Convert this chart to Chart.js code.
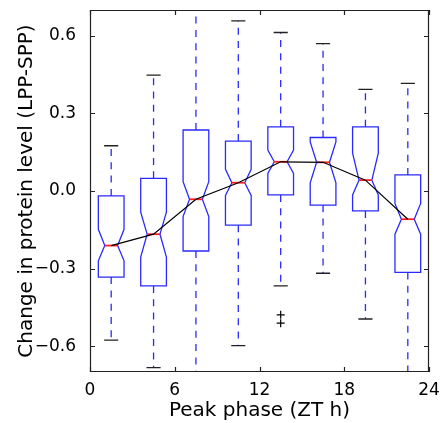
<!DOCTYPE html>
<html>
<head>
<meta charset="utf-8">
<script src="https://cdn.jsdelivr.net/npm/chart.js@4"></script>
<style>
html,body{margin:0;padding:0;background:#fff;}
#wrap{width:443px;height:423px;}
</style>
</head>
<body>
<div id="wrap"><canvas id="c" width="443" height="423"></canvas></div>
<script>
const phases = [1.5, 4.5, 7.5, 10.5, 13.5, 16.5, 19.5, 22.5];
const whiskerLow  = [-0.577, -0.683, -0.85, -0.598, -0.367, -0.318, -0.495, -0.85];
const q1          = [-0.333, -0.367, -0.232, -0.132, -0.015, -0.055, -0.077, -0.315];
const medians     = [-0.211, -0.167, -0.032, 0.032, 0.113, 0.111, 0.042, -0.109];
const q3          = [-0.019, 0.049, 0.236, 0.193, 0.248, 0.207, 0.248, 0.062];
const whiskerHigh = [0.175, 0.448, 0.85, 0.658, 0.613, 0.570, 0.393, 0.416];
const notchLow    = [-0.270, -0.256, -0.099, -0.017, 0.068, 0.032, -0.015, -0.167];
const notchHigh   = [-0.148, -0.082, 0.036, 0.084, 0.158, 0.190, 0.146, -0.048];
const outlierX    = [13.5, 13.5];
const outlierY    = [-0.479, -0.511];
const yTickValues = [-0.6, -0.3, 0, 0.3, 0.6];
const xTickValues = [0, 6, 12, 18, 24];

const BOX_HALF = 0.91;   // hours
const CAP_HALF = 0.5;

const boxPlugin = {
  id: 'boxes',
  beforeDatasetsDraw(chart) {
    const ctx = chart.ctx, xs = chart.scales.x, ys = chart.scales.y, a = chart.chartArea;
    ctx.save();
    ctx.beginPath(); ctx.rect(a.left, a.top, a.right - a.left, a.bottom - a.top); ctx.clip();
    const BL = '#2a2aff';
    for (let i = 0; i < phases.length; i++) {
      const cx = xs.getPixelForValue(phases[i]);
      const l = xs.getPixelForValue(phases[i] - BOX_HALF);
      const r = xs.getPixelForValue(phases[i] + BOX_HALF);
      const inset = (r - l) / 4;
      const py = v => ys.getPixelForValue(v);
      const pq1 = py(q1[i]), pq3 = py(q3[i]), pm = py(medians[i]);
      const pnl = py(notchLow[i]), pnh = py(notchHigh[i]);
      const pwl = py(whiskerLow[i]), pwh = py(whiskerHigh[i]);
      ctx.lineWidth = 1.3;
      // whiskers
      ctx.strokeStyle = BL;
      ctx.setLineDash([7, 6.3]);
      ctx.beginPath();
      ctx.moveTo(cx, pq3); ctx.lineTo(cx, pwh);
      ctx.moveTo(cx, pq1); ctx.lineTo(cx, pwl);
      ctx.stroke();
      ctx.setLineDash([]);
      // caps
      ctx.strokeStyle = '#222';
      const cl = xs.getPixelForValue(phases[i] - CAP_HALF), cr = xs.getPixelForValue(phases[i] + CAP_HALF);
      ctx.beginPath();
      ctx.moveTo(cl, pwh); ctx.lineTo(cr, pwh);
      ctx.moveTo(cl, pwl); ctx.lineTo(cr, pwl);
      ctx.stroke();
      // notched box
      ctx.strokeStyle = BL;
      ctx.beginPath();
      ctx.moveTo(l, pq1); ctx.lineTo(l, pnl); ctx.lineTo(l + inset, pm); ctx.lineTo(l, pnh); ctx.lineTo(l, pq3);
      ctx.lineTo(r, pq3); ctx.lineTo(r, pnh); ctx.lineTo(r - inset, pm); ctx.lineTo(r, pnl); ctx.lineTo(r, pq1);
      ctx.closePath();
      ctx.stroke();
      // median
      ctx.strokeStyle = '#ff2020';
      ctx.lineWidth = 1.8;
      ctx.beginPath(); ctx.moveTo(l + inset, pm); ctx.lineTo(r - inset, pm); ctx.stroke();
    }
    ctx.restore();
  },
  afterDraw(chart) {
    const ctx = chart.ctx, xs = chart.scales.x, ys = chart.scales.y, a = chart.chartArea;
    ctx.save();
    ctx.strokeStyle = '#222';
    ctx.lineWidth = 1.2;
    ctx.beginPath();
    ctx.rect(Math.round(a.left) + 0.5, Math.round(a.top) + 0.5, Math.round(a.right - a.left) - 1, Math.round(a.bottom - a.top) - 1);
    ctx.stroke();
    const T = 5;
    ctx.beginPath();
    xs.ticks.forEach(t => {
      const x = Math.round(xs.getPixelForValue(t.value)) + 0.5;
      ctx.moveTo(x, a.bottom); ctx.lineTo(x, a.bottom - T);
      ctx.moveTo(x, a.top); ctx.lineTo(x, a.top + T);
    });
    ys.ticks.forEach(t => {
      const y = Math.round(ys.getPixelForValue(t.value)) + 0.5;
      ctx.moveTo(a.left, y); ctx.lineTo(a.left + T, y);
      ctx.moveTo(a.right, y); ctx.lineTo(a.right - T, y);
    });
    ctx.stroke();
    ctx.restore();
  }
};

new Chart(document.getElementById('c'), {
  type: 'scatter',
  data: {
    datasets: [
      {
        type: 'line',
        data: phases.map((p, i) => ({x: p, y: medians[i]})),
        borderColor: '#000', borderWidth: 1.2, pointRadius: 0, fill: false, tension: 0
      },
      {
        data: outlierX.map((x, i) => ({x: x, y: outlierY[i]})),
        pointStyle: 'cross', pointRadius: 4, borderColor: '#000', borderWidth: 1.2, backgroundColor: '#000'
      }
    ]
  },
  options: {
    responsive: false,
    animation: false,
    devicePixelRatio: 1,
    layout: {padding: {top: 10, right: 14, left: 0, bottom: 0}},
    plugins: {legend: {display: false}, tooltip: {enabled: false}},
    scales: {
      x: {
        type: 'linear', min: 0, max: 24,
        afterBuildTicks: s => { s.ticks = xTickValues.map(v => ({value: v})); },
        afterFit: s => { s.height = 51; s.paddingLeft = 0; s.paddingRight = 0; },
        grid: {display: false}, border: {display: false},
        ticks: {color: '#000', font: {family: 'DejaVu Sans', size: 17}, padding: 0, maxRotation: 0,
                callback: v => String(v)},
        title: {display: true, text: 'Peak phase (ZT h)', color: '#000', font: {family: 'DejaVu Sans', size: 20}, padding: {top: 0, bottom: 0}}
      },
      y: {
        type: 'linear', min: -0.7, max: 0.7,
        afterBuildTicks: s => { s.ticks = yTickValues.map(v => ({value: v})); },
        afterFit: s => { s.width = 90; s.paddingTop = 0; s.paddingBottom = 0; },
        grid: {display: false}, border: {display: false},
        ticks: {color: '#000', font: {family: 'DejaVu Sans', size: 17}, padding: 6,
                callback: v => (v < 0 ? '\u2212' : '') + Math.abs(v).toFixed(1)},
        title: {display: true, text: 'Change in protein level (LPP-SPP)', color: '#000', font: {family: 'DejaVu Sans', size: 20}, padding: {top: 15, bottom: 0}}
      }
    }
  },
  plugins: [boxPlugin]
});
</script>
</body>
</html>
